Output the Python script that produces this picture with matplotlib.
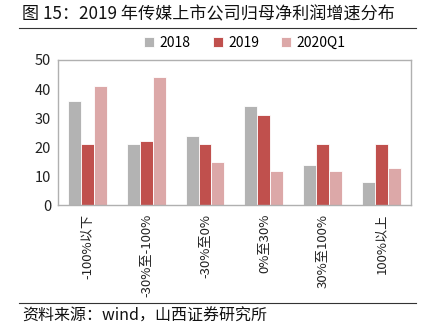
import matplotlib
matplotlib.use("Agg")
import matplotlib.pyplot as plt
import numpy as np
from matplotlib.lines import Line2D

plt.rcParams['font.family'] = ['Noto Sans CJK SC', 'DejaVu Sans']

categories = ['-100%以下', '-30%至-100%', '-30%至0%', '0%至30%', '30%至100%', '100%以上']
v2018 = [36, 21, 24, 34, 14, 8]
v2019 = [21, 22, 21, 31, 21, 21]
v2020q1 = [41, 44, 15, 12, 12, 13]

colors = ['#B3B3B3', '#C0504D', '#DCA8A8']
labels = ['2018', '2019', '2020Q1']

fig = plt.figure(figsize=(4.27, 3.24), dpi=100)
ax = fig.add_axes([0.136, 0.366, 0.826, 0.449])

x = np.arange(len(categories))
w = 0.22
for i, (vals, c, lab) in enumerate(zip([v2018, v2019, v2020q1], colors, labels)):
    ax.bar(x + (i - 1) * w, vals, width=w, color=c, label=lab,
           edgecolor='white', linewidth=0.6)

ax.set_xlim(-0.5, len(categories) - 0.5)
ax.set_ylim(0, 50)
ax.set_yticks(range(0, 51, 10))
ax.set_xticks(x)
ax.set_xticklabels(categories, rotation=90, fontsize=9.5, color='#222222')
ax.tick_params(axis='y', labelsize=10.5, length=0, pad=5, labelcolor='#222222')
ax.tick_params(axis='x', length=0, pad=6)
for s in ax.spines.values():
    s.set_color('#B0B0B0')
    s.set_linewidth(1.0)

ax.legend(loc='lower center', bbox_to_anchor=(0.53, 1.0), ncol=3, frameon=False,
          fontsize=10, handlelength=0.7, handleheight=0.7, handletextpad=0.4,
          columnspacing=1.6, borderaxespad=0.3)

fig.text(0.052, 0.955, '图 15：2019 年传媒上市公司归母净利润增速分布', fontsize=12.3,
         ha='left', va='center', color='#111111')
fig.add_artist(Line2D([0.045, 0.975], [0.915, 0.915], color='#333333', linewidth=0.8,
                      transform=fig.transFigure))
fig.add_artist(Line2D([0.045, 0.975], [0.065, 0.065], color='#333333', linewidth=0.8,
                      transform=fig.transFigure))
fig.text(0.052, 0.025, '资料来源：wind，山西证券研究所', fontsize=11.5,
         ha='left', va='center', color='#111111')

fig.savefig('out.png', dpi=100)
